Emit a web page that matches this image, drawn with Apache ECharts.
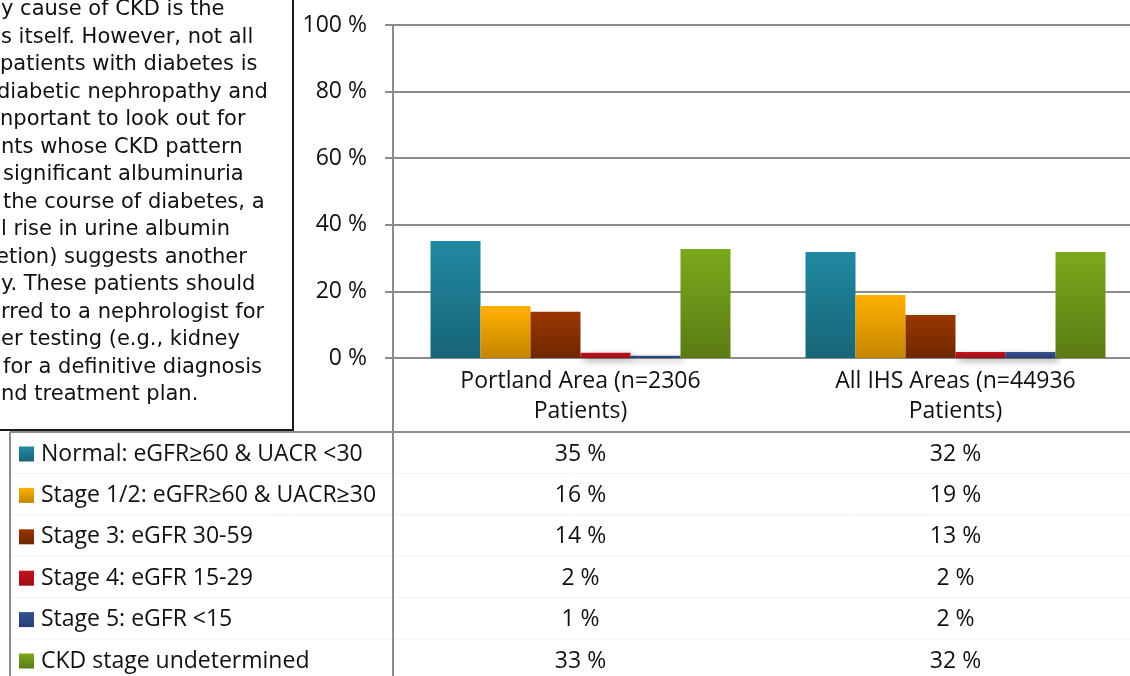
<!DOCTYPE html>
<html><head><meta charset="utf-8">
<script src="https://cdn.jsdelivr.net/npm/echarts@6/dist/echarts.min.js"></script>
<style>html,body{margin:0;padding:0;background:#fff;overflow:hidden}#c{width:1130px;height:676px}</style>
</head><body><div id="c"></div>
<script>
// ---- data ----
const categories = ['Portland Area (n=2306\nPatients)', 'All IHS Areas (n=44936\nPatients)'];
const seriesNames = ['Normal: eGFR≥60 & UACR <30', 'Stage 1/2: eGFR≥60 & UACR≥30', 'Stage 3: eGFR 30-59', 'Stage 4: eGFR 15-29', 'Stage 5: eGFR <15', 'CKD stage undetermined'];
const normal = [35.1, 31.8];
const stage12 = [15.6, 18.9];
const stage3 = [13.9, 12.9];
const stage4 = [1.6, 1.8];
const stage5 = [0.7, 1.8];
const undetermined = [32.7, 31.8];
const yTickLabels = ['0 %', '20 %', '40 %', '60 %', '80 %', '100 %'];
const noteLines = ['y cause of CKD is the', 's itself. However, not all', 'patients with diabetes is', 'diabetic nephropathy and', 'nportant to look out for', 'nts whose CKD pattern', 'significant albuminuria', 'the course of diabetes, a', 'l rise in urine albumin', 'etion) suggests another', 'y. These patients should', 'rred to a nephrologist for', 'er testing (e.g., kidney', 'for a definitive diagnosis', 'nd treatment plan.'];

// ---- styling ----
const seriesData = [normal, stage12, stage3, stage4, stage5, undetermined];
const colorStops = [['#2189A2', '#176576'], ['#FFB000', '#C48600'], ['#9A3700', '#702600'], ['#C4121C', '#9E0E16'], ['#33518F', '#283F72'], ['#7BA91B', '#5A7B15']];
const noteIndent = [1, 1, 0, -3, 0, 1, 3, 3, 1, -4, 1, 1, 1, 3, 1];
const FONT = 'Open Sans';
const FS = 23;
const grad = (c) => new echarts.graphic.LinearGradient(0, 0, 0, 1, [{offset: 0, color: c[0]}, {offset: 1, color: c[1]}]);

const chart = echarts.init(document.getElementById('c'), null, {renderer: 'canvas'});
const option = {
  animation: false,
  backgroundColor: '#fff',
  grid: {left: 393, top: 25, width: 750, height: 333, containLabel: false, outerBoundsMode: 'none'},
  xAxis: {
    type: 'category', data: categories,
    axisLine: {show: true, lineStyle: {color: '#8c8c8c', width: 2}},
    axisTick: {show: false},
    axisLabel: {fontFamily: FONT, fontSize: FS, color: '#111', lineHeight: 30, margin: 8, interval: 0}
  },
  yAxis: {
    type: 'value', min: 0, max: 100, interval: 20,
    axisLine: {show: true, lineStyle: {color: '#8c8c8c', width: 2}},
    axisTick: {show: true, length: 8, lineStyle: {color: '#8c8c8c', width: 2}},
    splitLine: {show: true, lineStyle: {color: '#8c8c8c', width: 2}},
    axisLabel: {fontFamily: FONT, fontSize: FS, color: '#111', margin: 26,
      formatter: (v) => yTickLabels[Math.round(v / 20)]}
  },
  series: seriesData.map((d, i) => ({
    name: seriesNames[i], type: 'bar', data: d,
    barGap: '0%', barCategoryGap: '20%',
    itemStyle: {color: grad(colorStops[i]), shadowBlur: 7, shadowColor: 'rgba(0,0,0,0.35)', shadowOffsetX: 3, shadowOffsetY: 3}
  }))
};
chart.setOption(option);

// ---- annotation box, data table ----
const colX = categories.map((c, i) => chart.convertToPixel({xAxisIndex: 0}, i));
const axisX = colX[0] - (colX[1] - colX[0]) / 2;
const zeroY = chart.convertToPixel({yAxisIndex: 0}, 0);
const g = [];
// note text box
g.push({type: 'rect', shape: {x: -20, y: -20, width: 313, height: 450}, style: {fill: '#fff', stroke: '#1a1a1a', lineWidth: 2}, z: 1});
noteLines.forEach((t, i) => g.push({type: 'text', x: noteIndent[i], y: 10 + i * 27.5, style: {text: t, fontFamily: 'DejaVu Sans', fontSize: 21, fill: '#111', verticalAlign: 'middle', align: 'left'}, z: 2}));
// table lines
const tableTop = 432, rowH = 41.4;
g.push({type: 'line', shape: {x1: 10, y1: tableTop, x2: 1130, y2: tableTop}, style: {stroke: '#8c8c8c', lineWidth: 2}, z: 1});
g.push({type: 'line', shape: {x1: 10, y1: tableTop, x2: 10, y2: 676}, style: {stroke: '#8c8c8c', lineWidth: 2}, z: 1});
g.push({type: 'line', shape: {x1: axisX, y1: zeroY, x2: axisX, y2: 676}, style: {stroke: '#8c8c8c', lineWidth: 2}, z: 1});
for (let r = 1; r < 6; r++) {
  g.push({type: 'line', shape: {x1: 11, y1: tableTop + r * rowH, x2: 1130, y2: tableTop + r * rowH}, style: {stroke: '#f2f2f2', lineWidth: 1}, z: 0});
}
seriesNames.forEach((name, r) => {
  const cy = tableTop + 22 + r * rowH;
  g.push({type: 'rect', shape: {x: 19, y: cy - 7.5, width: 15, height: 15}, style: {fill: grad(colorStops[r])}, z: 2});
  g.push({type: 'text', x: 41, y: cy, style: {text: name, fontFamily: FONT, fontSize: FS, fill: '#111', verticalAlign: 'middle', align: 'left'}, z: 2});
  seriesData[r].forEach((v, c) => {
    g.push({type: 'text', x: colX[c], y: cy, style: {text: Math.round(v) + ' %', fontFamily: FONT, fontSize: FS, fill: '#111', verticalAlign: 'middle', align: 'center'}, z: 2});
  });
});
chart.setOption({graphic: g});
</script></body></html>
